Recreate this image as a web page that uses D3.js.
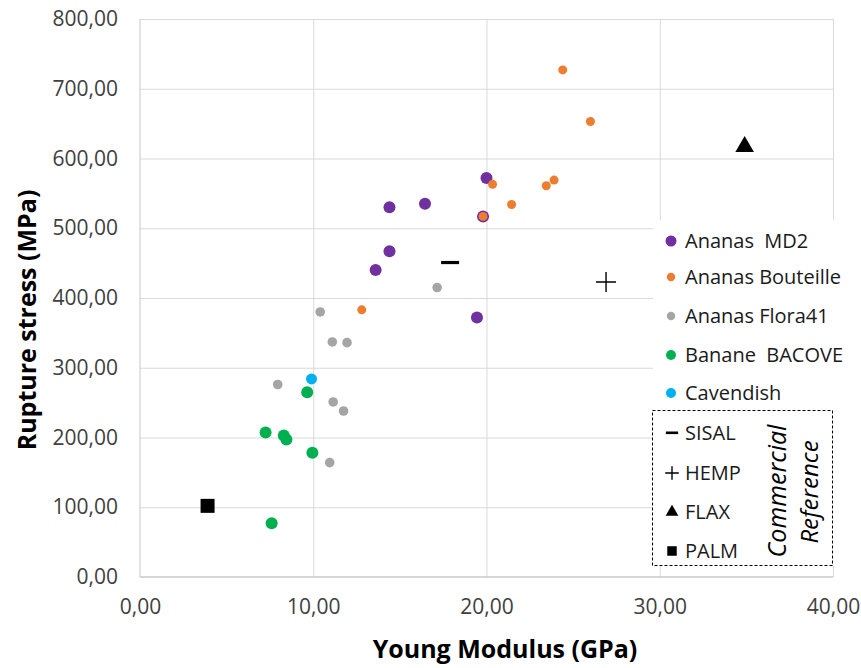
<!DOCTYPE html>
<html>
<head>
<meta charset="utf-8">
<script src="https://cdn.jsdelivr.net/npm/d3@7"></script>
<style>
  body { margin: 0; background: #fff; }
  text { font-family: "Open Sans", sans-serif; }
</style>
</head>
<body>
<div id="vis"></div>
<script>
// data
var xTicks = [0, 10, 20, 30, 40];
var yTicks = [0, 100, 200, 300, 400, 500, 600, 700, 800];

var mdYoung = [20.0, 14.4, 16.45, 19.8, 14.4, 13.6, 19.45];
var mdStress = [572, 530, 535, 517, 467, 440, 372];

var boutYoung = [24.4, 26.0, 20.35, 23.45, 23.9, 21.45, 19.8, 12.8];
var boutStress = [727, 653, 563, 561, 569, 534, 517, 383];

var floraYoung = [17.15, 10.4, 11.1, 11.95, 7.95, 11.15, 11.75, 10.95];
var floraStress = [415, 380, 337, 336, 276, 251, 238, 164];

var bacoveYoung = [9.65, 7.25, 8.3, 8.45, 9.95, 7.6];
var bacoveStress = [265, 207, 203, 197, 178, 77];

var cavYoung = [9.9];
var cavStress = [284];

var refNames = ["SISAL", "HEMP", "FLAX", "PALM"];
var refYoung = [17.9, 26.9, 34.9, 3.9];
var refStress = [451, 423, 617, 102];

var seriesNames = ["Ananas  MD2", "Ananas Bouteille", "Ananas Flora41", "Banane  BACOVE", "Cavendish"];
var seriesColors = ["#7030a0", "#ed7d31", "#a5a5a5", "#00b050", "#00b0f0"];

var W = 861, H = 668;
var margin = {top: 19, right: 28, bottom: 91, left: 140};

var svg = d3.select("#vis").append("svg")
  .attr("width", W)
  .attr("height", H);

var x = d3.scaleLinear().domain([0, 40]).range([margin.left, W - margin.right]);
var y = d3.scaleLinear().domain([0, 800]).range([H - margin.bottom, margin.top]);

var fr = d3.formatLocale({decimal: ",", thousands: " ", grouping: [3], currency: ["", ""]});
var fmt = fr.format(".2f");

// grid
svg.append("g")
  .attr("transform", "translate(" + margin.left + ",0)")
  .call(d3.axisLeft(y).tickValues(yTicks.slice(1)).tickSize(-(x.range()[1] - x.range()[0])).tickFormat(""))
  .call(function(g) { g.select(".domain").remove(); })
  .selectAll("line").attr("stroke", "#d9d9d9");

svg.append("g")
  .attr("transform", "translate(0," + y(0) + ")")
  .call(d3.axisBottom(x).tickValues(xTicks.slice(1)).tickSize(-(y.range()[0] - y.range()[1])).tickFormat(""))
  .call(function(g) { g.select(".domain").remove(); })
  .selectAll("line").attr("stroke", "#d9d9d9");

// axis lines
svg.append("line")
  .attr("x1", x(0)).attr("x2", x(0))
  .attr("y1", y(800)).attr("y2", y(0))
  .attr("stroke", "#c8c8c8");
svg.append("line")
  .attr("x1", x(0)).attr("x2", x(40))
  .attr("y1", y(0)).attr("y2", y(0))
  .attr("stroke", "#c8c8c8").attr("stroke-width", 1.5);

// tick labels
var yAx = svg.append("g")
  .attr("transform", "translate(" + x(0) + ",0)")
  .call(d3.axisLeft(y).tickValues(yTicks).tickSize(0).tickPadding(22).tickFormat(fmt));
yAx.select(".domain").remove();
yAx.selectAll("text").attr("font-size", 21).attr("fill", "#404040")
  .style("font-family", "'Open Sans', sans-serif");

var xAx = svg.append("g")
  .attr("transform", "translate(0," + y(0) + ")")
  .call(d3.axisBottom(x).tickValues(xTicks).tickSize(0).tickPadding(22).tickFormat(fmt));
xAx.select(".domain").remove();
xAx.selectAll("text").attr("font-size", 21).attr("fill", "#404040")
  .style("font-family", "'Open Sans', sans-serif");

// axis titles
svg.append("text")
  .attr("x", 505).attr("y", 658)
  .attr("text-anchor", "middle")
  .attr("font-size", 25).attr("font-weight", "bold")
  .text("Young Modulus (GPa)");

svg.append("text")
  .attr("transform", "translate(36,320) rotate(-90)")
  .attr("text-anchor", "middle")
  .attr("font-size", 25).attr("font-weight", "bold")
  .text("Rupture stress (MPa)");

// legend background (sits over the grid)
svg.append("rect")
  .attr("x", 653).attr("y", 220)
  .attr("width", 190).attr("height", 346)
  .attr("fill", "#fff");

// points
var series = [
  {young: mdYoung, stress: mdStress, r: 6},
  {young: boutYoung, stress: boutStress, r: 4.5},
  {young: floraYoung, stress: floraStress, r: 4.8},
  {young: bacoveYoung, stress: bacoveStress, r: 6},
  {young: cavYoung, stress: cavStress, r: 5.5}
];

series.forEach(function(s, i) {
  svg.append("g")
    .attr("fill", seriesColors[i])
    .selectAll("circle")
    .data(s.young)
    .enter().append("circle")
    .attr("cx", function(d) { return x(d); })
    .attr("cy", function(d, j) { return y(s.stress[j]); })
    .attr("r", s.r);
});

// commercial references
function refMark(g, name, big) {
  var k = big ? 1 : 0.68;
  if (name === "SISAL") {
    g.append("rect").attr("x", -9 * k).attr("y", -1.5).attr("width", 18 * k).attr("height", big ? 3.2 : 2.6).attr("fill", "#000");
  } else if (name === "HEMP") {
    g.append("path").attr("d", "M" + (-10 * k) + ",0H" + (10 * k) + "M0," + (-10 * k) + "V" + (10 * k))
      .attr("stroke", "#000").attr("stroke-width", 1.4).attr("fill", "none");
  } else if (name === "FLAX") {
    g.append("path").attr("d", d3.symbol(d3.symbolTriangle, 150 * k * k)()).attr("fill", "#000");
  } else {
    g.append("path").attr("d", d3.symbol(d3.symbolSquare, 196 * k * k)()).attr("fill", "#000");
  }
}

refNames.forEach(function(n, i) {
  var g = svg.append("g").attr("transform", "translate(" + x(refYoung[i]) + "," + y(refStress[i]) + ")");
  refMark(g, n, true);
});

// legend
var legY = [241, 277, 316, 355, 393];
var legR = [5.5, 4.2, 4.2, 5, 5];
var leg = svg.append("g");
seriesNames.forEach(function(n, i) {
  leg.append("circle").attr("cx", 671).attr("cy", legY[i]).attr("r", legR[i]).attr("fill", seriesColors[i]);
  leg.append("text")
    .attr("x", 685).attr("y", legY[i])
    .attr("dy", "0.36em")
    .attr("font-size", 20)
    .attr("fill", "#1a1a1a")
    .style("white-space", "pre")
    .text(n);
});

svg.append("rect")
  .attr("x", 652.5).attr("y", 410.5)
  .attr("width", 180).attr("height", 155)
  .attr("fill", "none")
  .attr("stroke", "#000")
  .attr("stroke-width", 1)
  .attr("stroke-dasharray", "3,2");

var refLegY = [433, 473, 512, 551];
refNames.forEach(function(n, i) {
  var g = leg.append("g").attr("transform", "translate(672," + refLegY[i] + ")");
  refMark(g, n, false);
  leg.append("text")
    .attr("x", 685).attr("y", refLegY[i])
    .attr("dy", "0.36em")
    .attr("font-size", 20)
    .attr("fill", "#1a1a1a")
    .text(n);
});

svg.append("text")
  .attr("transform", "translate(777,491) rotate(-90)")
  .attr("text-anchor", "middle").attr("dy", "0.36em")
  .attr("font-size", 25).attr("font-style", "italic")
  .text("Commercial");
svg.append("text")
  .attr("transform", "translate(809,492) rotate(-90)")
  .attr("text-anchor", "middle").attr("dy", "0.36em")
  .attr("font-size", 24).attr("font-style", "italic")
  .text("Reference");
</script>
</body>
</html>
